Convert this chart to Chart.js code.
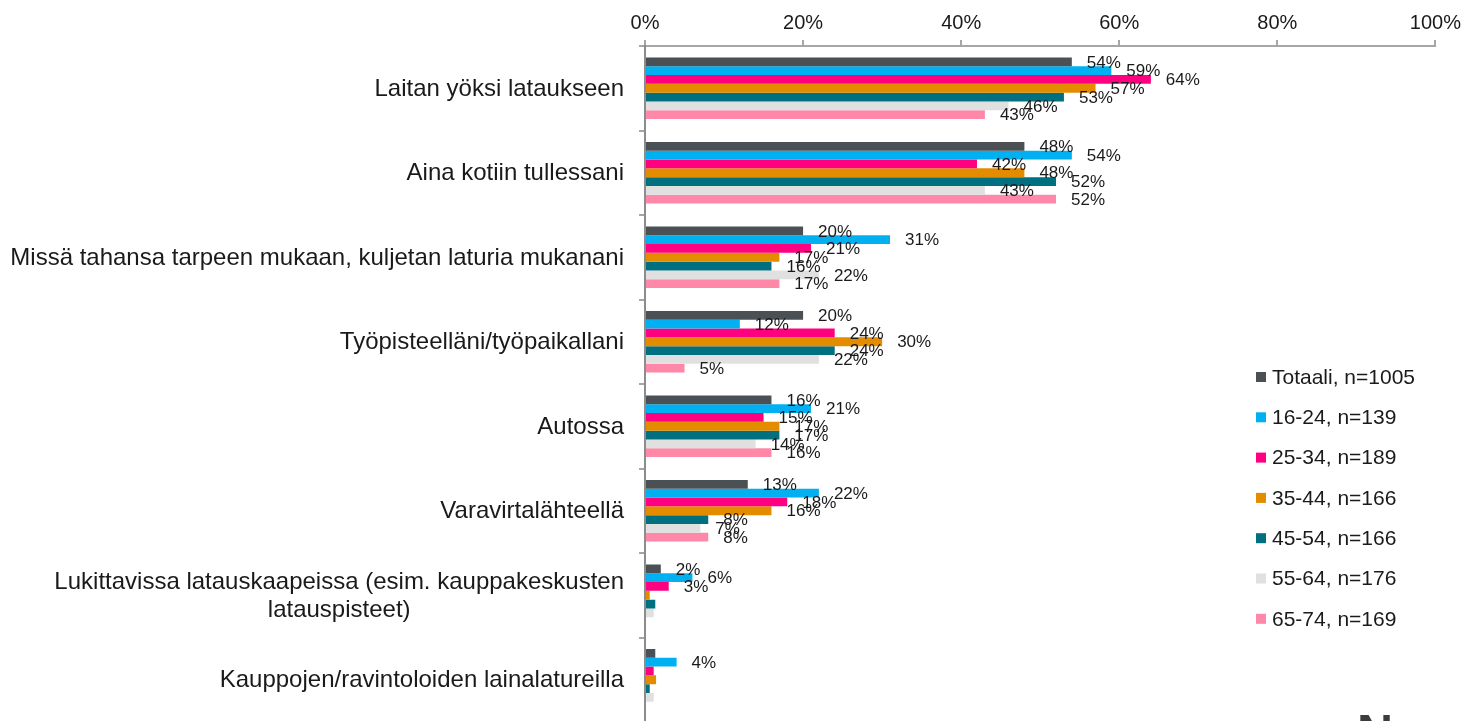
<!DOCTYPE html>
<html lang="fi">
<head>
<meta charset="utf-8">
<title>Latauspaikat</title>
<script src="https://cdn.jsdelivr.net/npm/chart.js@4/dist/chart.umd.min.js"></script>
<style>
  html, body { margin: 0; padding: 0; background: #fff; overflow: hidden; }
  #wrap { position: relative; width: 1466px; height: 721px; overflow: hidden; }
  #logo {
    position: absolute; left: 1357px; top: 708px;
    font: bold 50px "Liberation Sans", Arial, sans-serif; line-height: 1;
    color: #3c3c3c; white-space: nowrap;
  }
  #logo span { color: #9a9a9a; }
</style>
</head>
<body>
<div id="wrap">
  <canvas id="chart" width="1466" height="722"></canvas>
  <div id="logo">No<span>r</span></div>
</div>
<script>
// kategoriat ja ikäryhmät
const categories = [
  'Laitan yöksi lataukseen',
  'Aina kotiin tullessani',
  'Missä tahansa tarpeen mukaan, kuljetan laturia mukanani',
  'Työpisteelläni/työpaikallani',
  'Autossa',
  'Varavirtalähteellä',
  ['Lukittavissa latauskaapeissa (esim. kauppakeskusten', 'latauspisteet)'],
  'Kauppojen/ravintoloiden lainalatureilla'
];

const seriesNames = [
  'Totaali, n=1005',
  '16-24, n=139',
  '25-34, n=189',
  '35-44, n=166',
  '45-54, n=166',
  '55-64, n=176',
  '65-74, n=169'
];

// prosentit, sama järjestys kuin categories
const totaali = [54, 48, 20, 20, 16, 13, 2, 1.3];
const ika16_24 = [59, 54, 31, 12, 21, 22, 6, 4];
const ika25_34 = [64, 42, 21, 24, 15, 18, 3, 1.1];
const ika35_44 = [57, 48, 17, 30, 17, 16, 0.6, 1.4];
const ika45_54 = [53, 52, 16, 24, 17, 8, 1.3, 0.6];
const ika55_64 = [46, 43, 22, 22, 14, 7, 1.1, 1.1];
const ika65_74 = [43, 52, 17, 5, 16, 8, 0, 0];

const xTicks = [0, 20, 40, 60, 80, 100];

const colors = ['#4b5055', '#00b0f0', '#ff0080', '#e38c00', '#006f80', '#e0e0e0', '#ff87a8'];
const seriesData = [totaali, ika16_24, ika25_34, ika35_44, ika45_54, ika55_64, ika65_74];

const FONT = '"Liberation Sans", Arial, sans-serif';
const TEXT = '#1a1a1a';
const PLOT_LEFT = 645;
const PLOT_TOP = 46;

// arvot palkkien perään (alle 2 % jätetään pois)
const valueLabels = {
  id: 'valueLabels',
  afterDatasetsDraw(chart) {
    const ctx = chart.ctx;
    ctx.save();
    ctx.font = '17px ' + FONT;
    ctx.fillStyle = TEXT;
    ctx.textAlign = 'left';
    ctx.textBaseline = 'middle';
    chart.data.datasets.forEach((ds, i) => {
      chart.getDatasetMeta(i).data.forEach((bar, j) => {
        const v = ds.data[j];
        if (v < 2) return;
        ctx.fillText(Math.round(v) + '%', bar.x + 15, bar.y + 1);
      });
    });
    ctx.restore();
  }
};

// kategorianimet: lohko oikealle, rivit keskitetty lohkon sisällä
const categoryLabels = {
  id: 'categoryLabels',
  afterDraw(chart) {
    const ctx = chart.ctx;
    const yScale = chart.scales.y;
    const right = PLOT_LEFT - 21;
    const lineH = 28;
    ctx.save();
    ctx.font = '24px ' + FONT;
    ctx.fillStyle = TEXT;
    ctx.textAlign = 'center';
    ctx.textBaseline = 'middle';
    categories.forEach((cat, i) => {
      const lines = Array.isArray(cat) ? cat : [cat];
      const w = Math.max(...lines.map(l => ctx.measureText(l).width));
      const cx = right - w / 2;
      const cy = yScale.getPixelForValue(i) + 1;
      lines.forEach((l, k) => {
        ctx.fillText(l, cx, cy + (k - (lines.length - 1) / 2) * lineH);
      });
    });
    ctx.restore();
  }
};

// selite plotin oikeaan reunaan
const sideLegend = {
  id: 'sideLegend',
  afterDraw(chart) {
    const ctx = chart.ctx;
    ctx.save();
    ctx.font = '21px ' + FONT;
    ctx.textAlign = 'left';
    ctx.textBaseline = 'middle';
    chart.data.datasets.forEach((ds, i) => {
      const y = 377 + i * 40.3;
      ctx.fillStyle = ds.backgroundColor;
      ctx.fillRect(1256, y - 5, 10, 10);
      ctx.fillStyle = TEXT;
      ctx.fillText(ds.label, 1272, y + 1);
    });
    ctx.restore();
  }
};

const ctx = document.getElementById('chart').getContext('2d');
new Chart(ctx, {
  type: 'bar',
  data: {
    labels: categories,
    datasets: seriesNames.map((name, i) => ({
      label: name,
      data: seriesData[i],
      backgroundColor: colors[i],
      borderWidth: 0,
      categoryPercentage: 0.73,
      barPercentage: 1.0
    }))
  },
  options: {
    indexAxis: 'y',
    responsive: false,
    animation: false,
    devicePixelRatio: 1,
    layout: { padding: { left: 0, top: 0, right: 29, bottom: 0 } },
    plugins: {
      legend: { display: false },
      tooltip: { enabled: false }
    },
    scales: {
      x: {
        position: 'top',
        min: 0,
        max: 100,
        afterFit(scale) { scale.height = PLOT_TOP; },
        afterBuildTicks(scale) { scale.ticks = xTicks.map(v => ({ value: v })); },
        ticks: {
          callback: v => v + '%',
          font: { family: FONT, size: 20 },
          color: TEXT,
          padding: 5
        },
        grid: {
          drawOnChartArea: false,
          drawTicks: true,
          tickLength: 6,
          color: '#a6a6a6',
          lineWidth: 2
        },
        border: { display: true, color: '#a6a6a6', width: 2 }
      },
      y: {
        afterFit(scale) { scale.width = PLOT_LEFT; },
        ticks: { display: false },
        grid: {
          offset: true,
          drawOnChartArea: false,
          drawTicks: true,
          tickLength: 6,
          color: '#a6a6a6',
          lineWidth: 2
        },
        border: { display: true, color: '#8c8c8c', width: 2 }
      }
    }
  },
  plugins: [valueLabels, categoryLabels, sideLegend]
});
</script>
</body>
</html>
